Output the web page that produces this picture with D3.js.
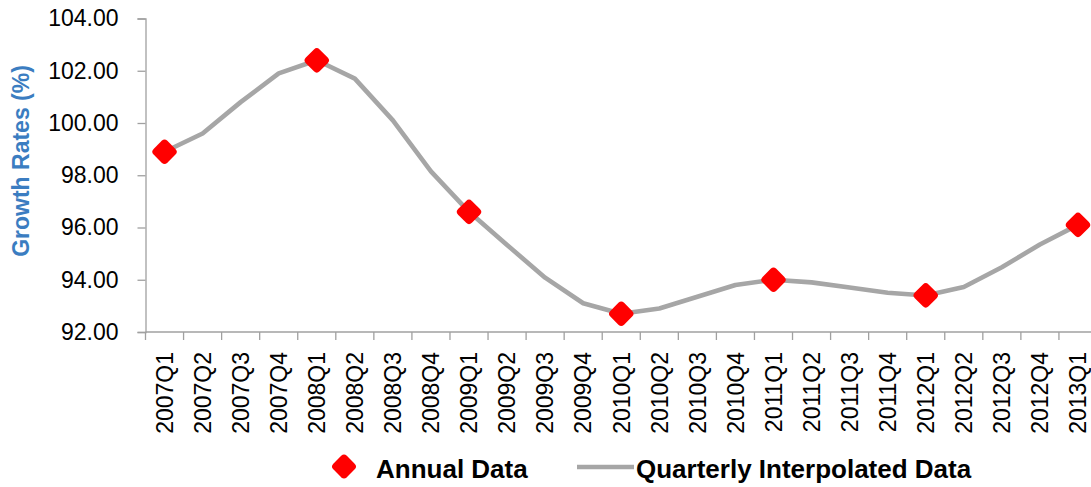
<!DOCTYPE html>
<html>
<head>
<meta charset="utf-8">
<script src="https://cdn.jsdelivr.net/npm/d3@7"></script>
<style>
  html, body { margin: 0; padding: 0; background: #ffffff; }
  svg { display: block; }
  text { font-family: "Liberation Sans", Arial, sans-serif; }
</style>
</head>
<body>
<svg id="chart" width="1091" height="487"></svg>
<script>
// Quarter labels, 2007Q1 .. 2013Q1
const quarters = [
  "2007Q1","2007Q2","2007Q3","2007Q4",
  "2008Q1","2008Q2","2008Q3","2008Q4",
  "2009Q1","2009Q2","2009Q3","2009Q4",
  "2010Q1","2010Q2","2010Q3","2010Q4",
  "2011Q1","2011Q2","2011Q3","2011Q4",
  "2012Q1","2012Q2","2012Q3","2012Q4",
  "2013Q1"
];

// Quarterly interpolated growth rates (%)
const quarterlyValues = [
  98.9, 99.6, 100.8, 101.9,
  102.4, 101.7, 100.1, 98.15,
  96.6, 95.33, 94.08, 93.1,
  92.7, 92.9, 93.35, 93.8,
  94.0, 93.9, 93.7, 93.5,
  93.4, 93.72, 94.48, 95.35,
  96.1
];

// Annual observations, placed on the first quarter of each year
const annualQuarters = ["2007Q1","2008Q1","2009Q1","2010Q1","2011Q1","2012Q1","2013Q1"];
const annualValues   = [98.9, 102.4, 96.6, 92.7, 94.0, 93.4, 96.1];

const yTicks = [92, 94, 96, 98, 100, 102, 104];

const svg = d3.select("#chart");

const x = d3.scaleBand().domain(quarters).range([145.5, 1097]);
const y = d3.scaleLinear().domain([92, 104]).range([332, 18.5]);

const axisColor = "#a0a0a0";

// Y axis
const yAxis = svg.append("g")
  .attr("transform", "translate(145.5,0)")
  .call(d3.axisLeft(y).tickValues(yTicks).tickFormat(d3.format(".2f")).tickSize(8).tickPadding(19));
yAxis.select(".domain").attr("stroke", axisColor).attr("stroke-width", 1.3);
yAxis.selectAll(".tick line").attr("stroke", axisColor).attr("stroke-width", 1.3);
yAxis.selectAll(".tick text")
  .attr("font-family", "Liberation Sans, Arial, sans-serif")
  .attr("font-size", 23).attr("fill", "#000");

// X axis: ticks on category boundaries, labels rotated at band centres
const xAxis = svg.append("g").attr("transform", "translate(0,332)");
xAxis.append("line")
  .attr("x1", x.range()[0]).attr("x2", x.range()[1])
  .attr("stroke", axisColor).attr("stroke-width", 1.3);
const boundaries = quarters.map(q => x(q)).concat([x.range()[1]]);
xAxis.selectAll("line.tk").data(boundaries).join("line")
  .attr("class", "tk")
  .attr("x1", d => d).attr("x2", d => d)
  .attr("y1", 0).attr("y2", 8)
  .attr("stroke", axisColor).attr("stroke-width", 1.3);
xAxis.selectAll("text").data(quarters).join("text")
  .attr("transform", d => `translate(${x(d) + x.bandwidth() / 2},20) rotate(-90)`)
  .attr("text-anchor", "end")
  .attr("dy", "0.36em")
  .attr("font-size", 23)
  .attr("fill", "#000")
  .text(d => d);

// Y axis title
svg.append("text")
  .attr("transform", "translate(29,161) rotate(-90)")
  .attr("text-anchor", "middle")
  .attr("font-size", 23)
  .attr("font-weight", "bold")
  .attr("fill", "#3b7dc1")
  .text("Growth Rates (%)");

// Quarterly line
const line = d3.line()
  .x((d, i) => x(quarters[i]) + x.bandwidth() / 2)
  .y(d => y(d));
svg.append("path")
  .datum(quarterlyValues)
  .attr("d", line)
  .attr("fill", "none")
  .attr("stroke", "#a6a6a6")
  .attr("stroke-width", 4.6)
  .attr("stroke-linejoin", "round");

// Rounded diamond marker
function diamond(sel, diag) {
  const side = diag / Math.SQRT2;
  sel.append("rect")
    .attr("x", -side / 2).attr("y", -side / 2)
    .attr("width", side).attr("height", side)
    .attr("rx", 4).attr("ry", 4)
    .attr("transform", "rotate(45)")
    .attr("fill", "#ff0000");
}

const annual = annualQuarters.map((q, i) => ({ q, v: annualValues[i] }));
svg.selectAll("g.annual").data(annual).join("g")
  .attr("class", "annual")
  .attr("transform", d => `translate(${x(d.q) + x.bandwidth() / 2},${y(d.v)})`)
  .each(function () { diamond(d3.select(this), 27.5); });

// Legend
const legend = svg.append("g");
diamond(legend.append("g").attr("transform", "translate(344,466.5)"), 27);
legend.append("text")
  .attr("x", 376).attr("y", 478)
  .attr("font-size", 26).attr("font-weight", "bold").attr("fill", "#000")
  .text("Annual Data");
legend.append("line")
  .attr("x1", 577).attr("x2", 634).attr("y1", 467).attr("y2", 467)
  .attr("stroke", "#a6a6a6").attr("stroke-width", 4.6);
legend.append("text")
  .attr("x", 636).attr("y", 478)
  .attr("font-size", 26).attr("font-weight", "bold").attr("fill", "#000")
  .text("Quarterly Interpolated Data");
</script>
</body>
</html>
